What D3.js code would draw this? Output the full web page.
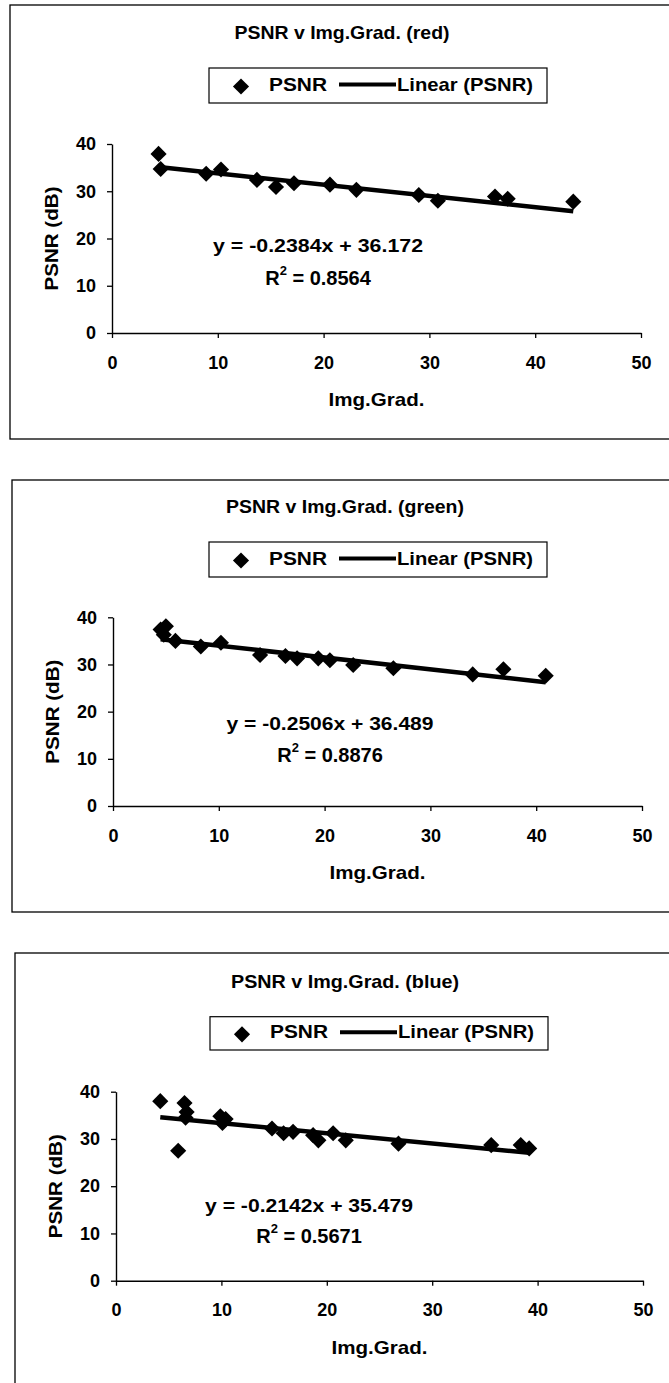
<!DOCTYPE html>
<html><head><meta charset="utf-8">
<script src="https://cdn.jsdelivr.net/npm/d3@7"></script>
<style>
body{margin:0;background:#fff}
svg{display:block}
text{font-family:"Liberation Sans",Arial,sans-serif;font-weight:bold;fill:#000}
</style>
</head><body><svg id="c" width="669" height="1383"></svg>
<script>
// ---- data ----
const channels = ["red", "green", "blue"];
const redGrad  = [4.4, 4.6, 8.9, 10.3, 13.7, 15.5, 17.2, 20.6, 23.1, 29.0, 30.8, 36.2, 37.4, 43.6];
const redPSNR  = [37.9, 34.7, 33.7, 34.6, 32.4, 30.9, 31.7, 31.4, 30.3, 29.2, 28.0, 28.9, 28.4, 27.8];
const greenGrad = [4.5, 5.0, 4.8, 5.9, 8.3, 10.2, 13.9, 16.3, 17.4, 19.4, 20.5, 22.7, 26.5, 34.0, 36.9, 40.9];
const greenPSNR = [37.4, 38.1, 36.3, 35.0, 33.8, 34.6, 32.0, 31.8, 31.3, 31.3, 30.9, 29.9, 29.2, 27.9, 29.0, 27.6];
const blueGrad = [4.2, 6.5, 6.7, 6.6, 5.9, 9.9, 10.4, 10.1, 14.8, 15.9, 16.8, 18.7, 19.2, 20.6, 21.8, 26.8, 35.6, 38.4, 39.2];
const bluePSNR = [38.0, 37.6, 35.7, 34.5, 27.5, 34.8, 34.2, 33.4, 32.2, 31.2, 31.5, 30.8, 29.7, 31.2, 29.7, 29.0, 28.7, 28.7, 28.0];
const slopes = [-0.2384, -0.2506, -0.2142];
const intercepts = [36.172, 36.489, 35.479];
const rSquared = ["0.8564", "0.8876", "0.5671"];
const xTicks = [0, 10, 20, 30, 40, 50];
const yTicks = [0, 10, 20, 30, 40];
const seriesName = "PSNR";
const trendName = "Linear (PSNR)";
const xTitle = "Img.Grad.";
const yTitle = "PSNR (dB)";

const gradSets = [redGrad, greenGrad, blueGrad];
const psnrSets = [redPSNR, greenPSNR, bluePSNR];

// ---- layout (pixel geometry) ----
const layouts = [
  {top:5,   bottom:439,  left:10, x0:112, x1:641, yb:333,    yt:144,    titleX:342, titleY:34,    legTop:68,    legBot:103,  legL:209, eqX:318, eqY:247,    r2Y:280,   titleW:215, eqW:210},
  {top:480, bottom:912,  left:12, x0:113, x1:642, yb:806,    yt:617.3,  titleX:345, titleY:508,   legTop:542,   legBot:577,  legL:209, eqX:330, eqY:725.7,  r2Y:756.7, titleW:238, eqW:207},
  {top:953, bottom:1400, left:15, x0:116, x1:643, yb:1280.7, yt:1091.7, titleX:345, titleY:983.3, legTop:1016.7, legBot:1050, legL:210, eqX:309, eqY:1207.3, r2Y:1238.3, titleW:228, eqW:208}
];

const svg = d3.select("#c");
const diamond = d3.symbol().type(d3.symbolSquare).size(130);

layouts.forEach((L, i) => {
  const g = svg.append("g");
  // outer frame (right edge off-canvas)
  g.append("rect").attr("x", L.left).attr("y", L.top)
    .attr("width", 700).attr("height", L.bottom - L.top)
    .attr("fill", "none").attr("stroke", "#000").attr("stroke-width", 1.3);

  const x = d3.scaleLinear().domain([0, 50]).range([L.x0, L.x1]);
  const y = d3.scaleLinear().domain([0, 40]).range([L.yb, L.yt]);

  // title
  g.append("text").attr("x", L.titleX).attr("y", L.titleY)
    .attr("text-anchor", "middle").attr("dominant-baseline", "middle")
    .attr("font-size", 19).attr("textLength", L.titleW).attr("lengthAdjust", "spacingAndGlyphs")
    .text(`PSNR v Img.Grad. (${channels[i]})`);

  // legend
  const lg = g.append("g");
  lg.append("rect").attr("x", L.legL).attr("y", L.legTop)
    .attr("width", 338).attr("height", L.legBot - L.legTop)
    .attr("fill", "#fff").attr("stroke", "#000").attr("stroke-width", 1.2);
  const lc = (L.legTop + L.legBot) / 2;
  lg.append("path").attr("d", diamond)
    .attr("transform", `translate(${L.legL + 32},${lc + 1}) rotate(45)`).attr("fill", "#000");
  lg.append("text").attr("x", L.legL + 60).attr("y", lc).attr("dominant-baseline", "middle")
    .attr("font-size", 19).attr("textLength", 58).attr("lengthAdjust", "spacingAndGlyphs").text(seriesName);
  lg.append("line").attr("x1", L.legL + 130).attr("x2", L.legL + 187)
    .attr("y1", lc - 1).attr("y2", lc - 1).attr("stroke", "#000").attr("stroke-width", 4);
  lg.append("text").attr("x", L.legL + 188).attr("y", lc).attr("dominant-baseline", "middle")
    .attr("font-size", 19).attr("textLength", 136).attr("lengthAdjust", "spacingAndGlyphs").text(trendName);

  // axes
  const ya = d3.axisLeft(y).tickValues(yTicks).tickSize(5).tickSizeOuter(0).tickPadding(11).tickFormat(d3.format("d"));
  const xa = d3.axisBottom(x).tickValues(xTicks).tickSize(5).tickSizeOuter(0).tickPadding(18).tickFormat(d3.format("d"));
  const gy = g.append("g").attr("transform", `translate(${L.x0},0)`).call(ya);
  const gx = g.append("g").attr("transform", `translate(0,${L.yb})`).call(xa);
  [gx, gy].forEach(a => {
    a.select(".domain").attr("stroke", "#000").attr("stroke-width", 1.4);
    a.selectAll(".tick line").attr("stroke", "#000").attr("stroke-width", 1.3);
    a.selectAll(".tick text").attr("font-size", 18).attr("font-family", '"Liberation Sans",Arial,sans-serif')
      .attr("font-weight", "bold").attr("fill", "#000");
  });

  // axis titles
  g.append("text").attr("transform", `translate(${L.x0 - 59},${(L.yb + L.yt) / 2}) rotate(-90)`)
    .attr("text-anchor", "middle").attr("dominant-baseline", "middle")
    .attr("font-size", 19).attr("textLength", 104).attr("lengthAdjust", "spacingAndGlyphs").text(yTitle);
  g.append("text").attr("x", (L.x0 + L.x1) / 2).attr("y", L.yb + 68)
    .attr("text-anchor", "middle").attr("dominant-baseline", "middle")
    .attr("font-size", 19).attr("textLength", 96).attr("lengthAdjust", "spacingAndGlyphs").text(xTitle);

  // points
  const pts = gradSets[i].map((v, k) => ({gx: v, p: psnrSets[i][k]}));
  g.append("g").selectAll("path").data(pts).join("path")
    .attr("d", diamond)
    .attr("transform", d => `translate(${x(d.gx)},${y(d.p)}) rotate(45)`)
    .attr("fill", "#000");

  // trendline
  const ext = d3.extent(gradSets[i]);
  const line = d3.line().x(d => x(d)).y(d => y(slopes[i] * d + intercepts[i]));
  g.append("path").attr("d", line(ext)).attr("fill", "none")
    .attr("stroke", "#000").attr("stroke-width", 4.5);

  // equation
  const sgn = slopes[i] < 0 ? "-" : "";
  g.append("text").attr("x", L.eqX).attr("y", L.eqY)
    .attr("text-anchor", "middle").attr("dominant-baseline", "middle")
    .attr("font-size", 18).attr("textLength", L.eqW).attr("lengthAdjust", "spacingAndGlyphs")
    .text(`y = ${sgn}${Math.abs(slopes[i]).toFixed(4)}x + ${intercepts[i].toFixed(3)}`);
  const r2 = g.append("text").attr("x", L.eqX).attr("y", L.r2Y)
    .attr("text-anchor", "middle").attr("dominant-baseline", "middle").attr("font-size", 20);
  r2.append("tspan").text("R");
  r2.append("tspan").attr("font-size", 13).attr("dy", -8).text("2");
  r2.append("tspan").attr("dy", 8).text(` = ${rSquared[i]}`);
});
</script>
</body></html>
